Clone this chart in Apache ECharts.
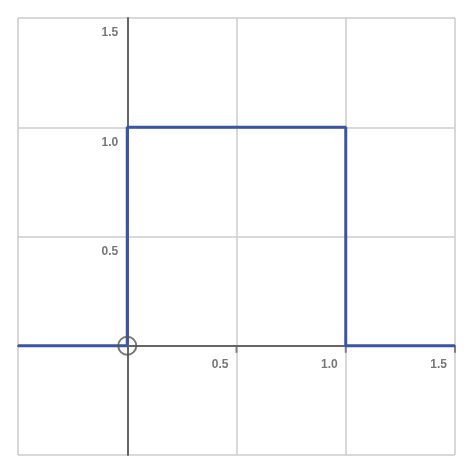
<!DOCTYPE html>
<html>
<head>
<meta charset="utf-8">
<script src="https://cdn.jsdelivr.net/npm/echarts@6/dist/echarts.min.js"></script>
<style>html,body{margin:0;padding:0;background:#fff}#chart{width:474px;height:474px}</style>
</head>
<body>
<div id="chart"></div>
<script>
// step function data
var stepX = [-0.5, 0, 0, 1, 1, 1.5];
var stepY = [0, 0, 1, 1, 0, 0];
var origin = [[0, 0]];
var tickValues = [0.5, 1, 1.5];
var tickLabels = ['0.5', '1.0', '1.5'];

var myChart = echarts.init(document.getElementById('chart'));
var labelStyle = { color: '#555', fontFamily: 'Liberation Sans', fontWeight: 'bold', fontSize: 12 };
function axisCommon() {
    return {
        type: 'value', min: -0.5, max: 1.5, interval: 0.5,
        axisLine: { onZero: true, lineStyle: { color: '#666', width: 2 } },
        axisTick: { show: false },
        axisLabel: { show: false },
        splitLine: { lineStyle: { color: '#ccc', width: 1.5 } }
    };
}
var option = {
    animation: false,
    grid: { left: 18, right: 19, top: 18, bottom: 19, containLabel: false, outerBoundsMode: 'none' },
    xAxis: axisCommon(),
    yAxis: axisCommon(),
    series: [
        {
            type: 'line',
            data: stepX.map(function (x, i) { return [x, stepY[i]]; }),
            showSymbol: false,
            lineStyle: { color: '#3a55a4', width: 3 },
            z: 3
        },
        {
            type: 'scatter',
            data: origin,
            symbol: 'circle',
            symbolSize: 18,
            itemStyle: { color: 'rgba(0,0,0,0)', borderColor: '#555', borderWidth: 2 },
            z: 4
        },
        {
            // x tick marks and labels
            type: 'scatter',
            data: tickValues.map(function (v, i) { return { value: [v, 0], name: tickLabels[i] }; }),
            symbol: 'rect',
            symbolSize: [2, 6],
            symbolOffset: [0, 4],
            itemStyle: { color: '#666' },
            label: Object.assign({ show: true, formatter: '{b}', position: 'left', offset: [-2, 15] }, labelStyle),
            z: 2
        },
        {
            // y labels
            type: 'scatter',
            data: tickValues.map(function (v, i) { return { value: [0, v], name: tickLabels[i] }; }),
            symbolSize: 0,
            label: Object.assign({ show: true, formatter: '{b}', position: 'left', offset: [-4, 15] }, labelStyle),
            z: 2
        }
    ]
};
myChart.setOption(option);
</script>
</body>
</html>
